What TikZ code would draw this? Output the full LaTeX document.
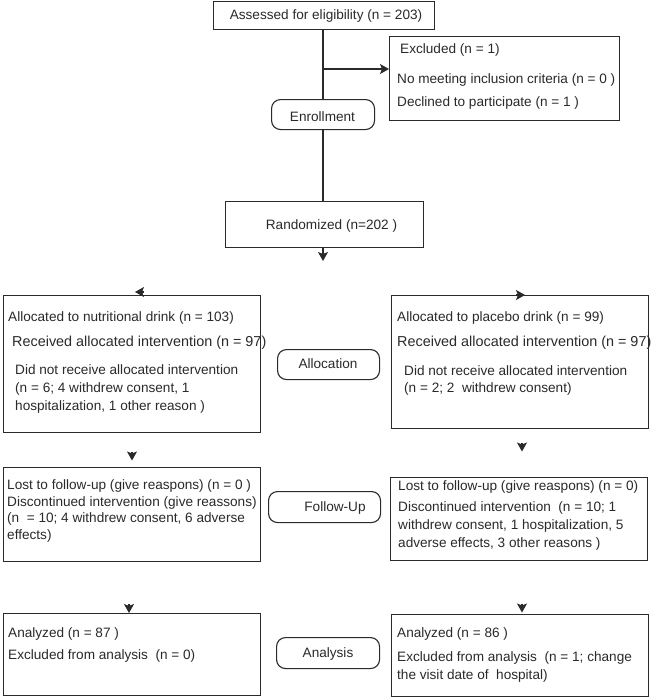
\documentclass[tikz,border=0pt]{standalone}
\usepackage{fontspec}
\setmainfont{Liberation Sans}
\usetikzlibrary{arrows.meta}
\definecolor{ink}{HTML}{2A2A2A}
\tikzset{
  box/.style={draw=ink, line width=1.1pt, fill=white, inner sep=0pt, anchor=north west},
  rbox/.style={box, rounded corners=9pt},
  txt/.style={inner sep=0pt, anchor=base west, text=ink, font=\fontsize{13.6}{16}\selectfont},
  wtxt/.style={txt, font=\fontsize{14.4}{17}\selectfont},
  ctxt/.style={txt, anchor=base},
  conn/.style={draw=ink, line width=1.1pt},
  tip/.style={conn, -{Stealth[length=9pt,width=10pt,inset=2pt]}},
}
\begin{document}
\begin{tikzpicture}[x=1pt,y=-1pt]
\useasboundingbox (0,0) rectangle (652,697);
% boxes
\node[box, minimum width=221pt, minimum height=28.5pt] (assess) at (213,0.6) {};
\node[box, minimum width=230pt, minimum height=84pt] (excl) at (389,36) {};
\node[box, minimum width=198pt, minimum height=46pt] (rand) at (225,201) {};
\node[box, minimum width=257pt, minimum height=137pt] (allocL) at (3,295) {};
\node[box, minimum width=257pt, minimum height=133pt] (allocR) at (391,295) {};
\node[box, minimum width=257pt, minimum height=94pt] (fuL) at (3,467) {};
\node[box, minimum width=257pt, minimum height=83pt] (fuR) at (390,477) {};
\node[box, minimum width=257pt, minimum height=82pt] (anL) at (3,613) {};
\node[box, minimum width=257pt, minimum height=82pt] (anR) at (391,614) {};
% connectors (top)
\coordinate (split) at (323,69);
\draw[conn] (assess.south -| split) -- (split);
\draw[tip] (split) -- (split -| excl.west);
\node[rbox, minimum width=103pt, minimum height=30pt] (enroll) at (271,99) {};
\draw[conn] (split) -- (split |- enroll.north);
\draw[conn] (split |- enroll.south) -- (split |- rand.north);
\coordinate (r1) at (323,261);
\draw[tip] (split |- rand.south) -- (r1);
% stage labels
\node[rbox, minimum width=102pt, minimum height=30pt] (allocation) at (277,349) {};
\node[rbox, minimum width=112pt, minimum height=31pt] (followup) at (268,491) {};
\node[rbox, minimum width=103pt, minimum height=31pt] (analysis) at (276,637) {};
% isolated arrowheads
\coordinate (aL0) at (144,292); \coordinate (aL1) at (135,292);
\draw[tip] (aL0) -- (aL1);
\coordinate (aR0) at (516,295); \coordinate (aR1) at (525,295);
\draw[tip] (aR0) -- (aR1);
\coordinate (fL0) at (132,451.5); \coordinate (fL1) at (132,460.5);
\draw[tip] (fL0) -- (fL1);
\coordinate (fR0) at (522,442.5); \coordinate (fR1) at (522,451.5);
\draw[tip] (fR0) -- (fR1);
\coordinate (nL0) at (129,604); \coordinate (nL1) at (129,613);
\draw[tip] (nL0) -- (nL1);
\coordinate (nR0) at (522,603.5); \coordinate (nR1) at (522,612.5);
\draw[tip] (nR0) -- (nR1);
% texts
\node[ctxt] (tassess) at (326,19.5) {Assessed for eligibility (n = 203)};
\node[txt] (te1) at (400,53.5) {Excluded (n = 1)};
\node[txt] (te2) at (397,83.5) {No meeting inclusion criteria (n = 0 )};
\node[txt] (te3) at (397,106.5) {Declined to participate (n = 1 )};
\node[ctxt] (tenroll) at (322.5,121) {Enrollment};
\node[ctxt] (trand) at (331.5,229.5) {Randomized (n=202 )};
\node[txt] (tl1) at (8,321.5) {Allocated to nutritional drink (n = 103)};
\node[wtxt] (tl2) at (12,346.5) {Received allocated intervention (n = 97)};
\node[txt] (tl3) at (15,374.5) {Did not receive allocated intervention};
\node[txt] (tl4) at (15,392.5) {(n = 6; 4 withdrew consent, 1};
\node[txt] (tl5) at (15,410.5) {hospitalization, 1 other reason )};
\node[txt] (tr1) at (397,321.5) {Allocated to placebo drink (n = 99)};
\node[wtxt] (tr2) at (397,346.5) {Received allocated intervention (n = 97)};
\node[txt] (tr3) at (404,375.5) {Did not receive allocated intervention};
\node[txt] (tr4) at (404,392.5) {(n = 2; 2\ \ withdrew consent)};
\node[ctxt] (tallocation) at (328,368.5) {Allocation};
\node[txt] (tf1) at (7,489.5) {Lost to follow-up (give reaspons) (n = 0 )};
\node[txt] (tf2) at (7,506.5) {Discontinued intervention (give reassons)};
\node[txt] (tf3) at (7,522.5) {(n\ \ = 10; 4 withdrew consent, 6 adverse};
\node[txt] (tf4) at (7,539.5) {effects)};
\node[txt] (tg1) at (398,490.5) {Lost to follow-up (give reaspons) (n = 0)};
\node[txt] (tg2) at (398,511.5) {Discontinued intervention\ \ (n = 10; 1};
\node[txt] (tg3) at (398,529.5) {withdrew consent, 1 hospitalization, 5};
\node[txt] (tg4) at (398,547.5) {adverse effects, 3 other reasons )};
\node[ctxt] (tfollowup) at (335,511.5) {Follow-Up};
\node[txt] (ta1) at (8,637.5) {Analyzed (n = 87 )};
\node[txt] (ta2) at (8,659.5) {Excluded from analysis\ \ (n = 0)};
\node[txt] (tb1) at (397,637.5) {Analyzed (n = 86 )};
\node[txt] (tb2) at (397,661.5) {Excluded from analysis\ \ (n = 1; change};
\node[txt] (tb3) at (397,679.5) {the visit date of\ \ hospital)};
\node[ctxt] (tanalysis) at (328,657.5) {Analysis};
\end{tikzpicture}
\end{document}
